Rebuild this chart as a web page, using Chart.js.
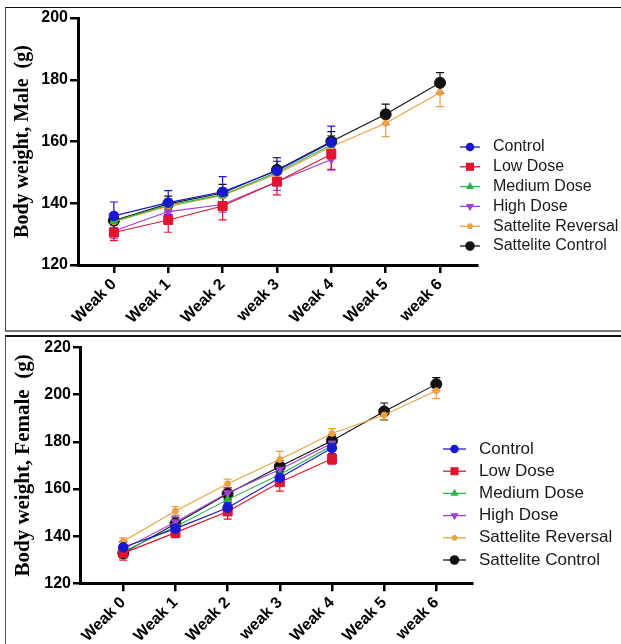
<!DOCTYPE html>
<html>
<head>
<meta charset="utf-8">
<script src="https://cdn.jsdelivr.net/npm/chart.js@4.4.1/dist/chart.umd.min.js"></script>
<style>
  html, body { margin: 0; padding: 0; background: #fff; }
  body { width: 621px; height: 644px; position: relative; overflow: hidden; }
  .panel { position: absolute; left: 5px; width: 700px; box-sizing: border-box; }
  #p1 { top: 7px; height: 325px; border-top: 1px solid #111; border-left: 1px solid #444; border-bottom: 2px solid #777; }
  #p2 { top: 335px; height: 340px; border-top: 2px solid #111; border-left: 1px solid #555; }
  canvas { position: absolute; left: 0; }
  #c1 { top: 0; }
  #c2 { top: 336px; }
</style>
</head>
<body>
<div class="panel" id="p1"></div>
<div class="panel" id="p2"></div>
<canvas id="c1" width="621" height="330"></canvas>
<canvas id="c2" width="621" height="308"></canvas>
<script>
const weeks = ['Weak 0', 'Weak 1', 'Weak 2', 'weak 3', 'Weak 4', 'Weak 5', 'weak 6'];
const groups = ['Control', 'Low Dose', 'Medium Dose', 'High Dose', 'Sattelite Reversal', 'Sattelite Control'];
const maleTicks = [120, 140, 160, 180, 200];
const femaleTicks = [120, 140, 160, 180, 200, 220];

// male body weight (mean, sd)
const maleControl = [135.9, 140.2, 143.7, 150.5, 159.7];
const maleControlSd = [4.5, 3.9, 4.9, 4.3, 5.3];
const maleLow = [130.5, 134.6, 139.1, 147.0, 155.9];
const maleLowSd = [2.6, 4.0, 4.5, 4.3, 4.9];
const maleMedium = [134.2, 139.4, 142.7, 150.0, 158.9];
const maleMediumSd = [2.0, 2.0, 2.2, 2.0, 3.0];
const maleHigh = [131.0, 137.3, 139.6, 147.0, 154.2];
const maleHighSd = [2.5, 2.5, 2.5, 2.8, 3.5];
const maleSatRev = [134.0, 139.0, 142.5, 149.5, 158.3, 165.9, 175.9];
const maleSatRevSd = [2.2, 2.2, 2.5, 2.5, 3.0, 4.3, 4.6];
const maleSatCtl = [134.4, 139.8, 143.3, 150.8, 160.0, 168.8, 179.0];
const maleSatCtlSd = [2.5, 2.5, 2.8, 2.8, 3.2, 3.3, 3.3];

// female body weight (mean, sd)
const femaleControl = [135.3, 143.2, 152.1, 164.8, 177.4];
const femaleControlSd = [2.5, 2.5, 2.2, 2.5, 2.6];
const femaleLow = [132.8, 141.5, 150.5, 162.9, 172.8];
const femaleLowSd = [3.0, 2.1, 3.3, 3.8, 2.2];
const femaleMedium = [133.5, 144.0, 155.5, 166.2, 178.4];
const femaleMediumSd = [2.0, 2.0, 2.2, 2.2, 2.2];
const femaleHigh = [134.5, 146.0, 158.3, 168.3, 179.4];
const femaleHighSd = [3.0, 2.5, 2.3, 2.5, 2.5];
const femaleSatRev = [137.8, 150.7, 162.2, 172.5, 183.6, 191.4, 201.7];
const femaleSatRevSd = [1.5, 1.8, 2.0, 3.5, 2.0, 2.1, 3.3];
const femaleSatCtl = [132.8, 145.3, 158.0, 169.6, 180.5, 192.9, 204.5];
const femaleSatCtlSd = [2.0, 2.5, 2.5, 2.5, 2.5, 3.6, 2.8];

const colors = ['#1818d0', '#e0142e', '#2db34a', '#a23cd6', '#f0a040', '#111111'];
const markers = [
  { shape: 'circle', r: 4.8, rot: 0 },
  { shape: 'rect', r: 6.4, rot: 0 },
  { shape: 'triangle', r: 4.5, rot: 0 },
  { shape: 'triangle', r: 4.5, rot: 180 },
  { shape: 'circle', r: 3, rot: 0 },
  { shape: 'circle', r: 5.5, rot: 0 }
];

function makeSets(values, errors) {
  return groups.map((g, i) => ({
    label: g,
    data: values[i].map((v, k) => ({ x: k, y: v })),
    sd: errors[i],
    borderColor: colors[i],
    backgroundColor: colors[i],
    borderWidth: 1.1,
    pointStyle: markers[i].shape,
    pointRadius: markers[i].r,
    pointRotation: markers[i].rot,
    pointBorderWidth: 1
  }));
}

// mean ± sd whiskers, drawn under the markers
const errorBars = {
  id: 'errorBars',
  beforeDatasetsDraw(chart) {
    const ctx = chart.ctx, yS = chart.scales.y;
    ctx.save();
    for (let i = chart.data.datasets.length - 1; i >= 0; i--) {
      const ds = chart.data.datasets[i];
      const meta = chart.getDatasetMeta(i);
      ctx.strokeStyle = ds.borderColor;
      ctx.lineWidth = 1.2;
      meta.data.forEach((pt, k) => {
        const v = ds.data[k].y, e = ds.sd[k];
        const top = yS.getPixelForValue(v + e), bot = yS.getPixelForValue(v - e);
        ctx.beginPath();
        ctx.moveTo(pt.x, top); ctx.lineTo(pt.x, bot);
        ctx.moveTo(pt.x - 4, top); ctx.lineTo(pt.x + 4, top);
        ctx.moveTo(pt.x - 4, bot); ctx.lineTo(pt.x + 4, bot);
        ctx.stroke();
      });
    }
    ctx.restore();
  }
};

// legend on the right: line with the marker through it
const sideLegend = {
  id: 'sideLegend',
  afterDraw(chart, args, opts) {
    const ctx = chart.ctx;
    ctx.save();
    ctx.font = opts.font;
    ctx.textBaseline = 'middle';
    chart.data.datasets.forEach((ds, i) => {
      const y = opts.y + i * opts.step;
      ctx.strokeStyle = ds.borderColor;
      ctx.fillStyle = ds.backgroundColor;
      ctx.lineWidth = 1.3;
      ctx.beginPath();
      ctx.moveTo(opts.x, y);
      ctx.lineTo(opts.x + opts.len, y);
      ctx.stroke();
      Chart.helpers.drawPoint(ctx, {
        pointStyle: ds.pointStyle, radius: ds.pointRadius * 0.75,
        rotation: ds.pointRotation, borderWidth: 1
      }, opts.x + opts.len / 2, y);
      ctx.fillStyle = '#1a1a1a';
      ctx.fillText(ds.label, opts.x + opts.len + opts.gap, y);
    });
    ctx.restore();
  }
};

function makeChart(id, sets, cfg) {
  return new Chart(document.getElementById(id), {
    type: 'line',
    data: { datasets: sets },
    plugins: [errorBars, sideLegend],
    options: {
      responsive: false,
      animation: false,
      events: [],
      layout: { padding: cfg.padding },
      scales: {
        x: {
          type: 'linear', min: cfg.xMin, max: cfg.xMax,
          afterFit: s => { s.height = cfg.xHeight; },
          afterBuildTicks: s => { s.ticks = weeks.map((w, i) => ({ value: i })); },
          border: { color: '#000', width: 3 },
          grid: { drawOnChartArea: false, tickLength: 8, color: '#000', lineWidth: 2.5 },
          ticks: {
            callback: v => weeks[v], minRotation: 45, maxRotation: 45, autoSkip: false,
            color: '#000', padding: 2,
            font: { family: '"Liberation Sans", Arial', size: 16, weight: 'bold' }
          }
        },
        y: {
          min: cfg.yTicks[0], max: cfg.yTicks[cfg.yTicks.length - 1],
          afterFit: s => { s.width = cfg.yWidth; },
          afterBuildTicks: s => { s.ticks = cfg.yTicks.map(v => ({ value: v })); },
          border: { color: '#000', width: 3 },
          grid: { drawOnChartArea: false, tickLength: cfg.yTickLen, color: '#000', lineWidth: 2.5 },
          ticks: { color: '#000', padding: 2, font: { family: '"Liberation Sans", Arial', size: 16, weight: 'bold' } },
          title: {
            display: true, text: cfg.title, color: '#000', padding: { top: 11, bottom: 0 },
            font: { family: '"Liberation Serif", "Times New Roman"', size: cfg.titleSize, weight: 'bold' }
          }
        }
      },
      plugins: {
        legend: { display: false },
        tooltip: { enabled: false },
        sideLegend: cfg.legend
      }
    }
  });
}

makeChart('c1',
  makeSets([maleControl, maleLow, maleMedium, maleHigh, maleSatRev, maleSatCtl],
           [maleControlSd, maleLowSd, maleMediumSd, maleHighSd, maleSatRevSd, maleSatCtlSd]),
  {
    padding: { left: 0, top: 18, right: 144, bottom: 0 },
    xMin: -0.66, xMax: 6.68, xHeight: 65, yWidth: 78, yTickLen: 8,
    yTicks: maleTicks, title: 'Body weight, Male  (g)', titleSize: 20,
    legend: { x: 460, len: 20, gap: 13, y: 147, step: 19.8, font: '16px "Liberation Sans", Arial' }
  });

makeChart('c2',
  makeSets([femaleControl, femaleLow, femaleMedium, femaleHigh, femaleSatRev, femaleSatCtl],
           [femaleControlSd, femaleLowSd, femaleMediumSd, femaleHighSd, femaleSatRevSd, femaleSatCtlSd]),
  {
    padding: { left: 0, top: 10.7, right: 148.7, bottom: 0 },
    xMin: -0.83, xMax: 6.69, xHeight: 60.7, yWidth: 80, yTickLen: 7,
    yTicks: femaleTicks, title: 'Body weight, Female  (g)', titleSize: 21,
    legend: { x: 443, len: 23, gap: 13, y: 113, step: 22.2, font: '17px "Liberation Sans", Arial' }
  });
</script>
</body>
</html>
